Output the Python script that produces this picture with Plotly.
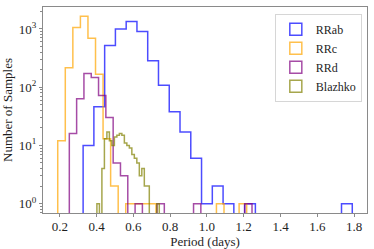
import numpy as np
import plotly.graph_objects as go

# ---------------- data ----------------
N_BINS = 25
series_names = ["RRab", "RRc", "RRd", "Blazhko"]

rrab_range = [0.327, 1.790]
rrab_counts = [10, 46, 522, 993, 1337, 908, 284, 108, 38, 17, 6, 1, 2, 1, 0, 1,
               0, 0, 0, 0, 0, 0, 0, 0, 1]

rrc_range = [0.189, 1.216]
rrc_counts = [12, 215, 1056, 1644, 689, 166, 13, 2, 0, 1, 1, 1, 1, 0, 0, 0,
              0, 0, 0, 0, 0, 1, 0, 0, 1]

rrd_range = [0.252, 1.245]
rrd_counts = [16, 63, 172, 147, 72, 30, 5, 3, 0, 1, 0, 0, 1, 0, 0, 0,
              0, 1, 0, 0, 0, 0, 0, 0, 1]

blazhko_range = [0.402, 0.741]
blazhko_counts = [1, 0, 4, 13, 17, 12, 10, 14, 15, 16, 15, 11, 10, 9, 7, 6,
                  5, 3, 4, 2, 2, 0, 0, 0, 1]

x_tick_vals = [0.2, 0.4, 0.6, 0.8, 1.0, 1.2, 1.4, 1.6, 1.8]
y_tick_vals = [1, 10, 100, 1000]
y_tick_text = ["10<sup>0</sup>", "10<sup>1</sup>", "10<sup>2</sup>", "10<sup>3</sup>"]

# ---------------- styling ----------------
line_colors = ["rgba(0,0,255,0.7)", "rgba(255,165,0,0.7)",
               "rgba(128,0,128,0.7)", "rgba(128,128,0,0.7)"]
FLOOR = 1e-2  # stands in for zero counts on the log axis (drawn below the axis)
FONT = "Liberation Serif, DejaVu Serif, serif"
TXT = "#1e1e1e"

ranges = [rrab_range, rrc_range, rrd_range, blazhko_range]
counts = [rrab_counts, rrc_counts, rrd_counts, blazhko_counts]


def step_outline(rng, cnt):
    edges = np.linspace(rng[0], rng[1], len(cnt) + 1)
    c = np.asarray(cnt, dtype=float)
    c[c <= 0] = FLOOR
    xs = np.repeat(edges, 2)
    ys = np.concatenate([[FLOOR], np.repeat(c, 2), [FLOOR]])
    return xs, ys


fig = go.Figure()
for name, rng, cnt, col in zip(series_names, ranges, counts, line_colors):
    xs, ys = step_outline(rng, cnt)
    fig.add_trace(go.Scatter(x=xs, y=ys, mode="lines", name=name,
                             line=dict(color=col, width=1.5),
                             showlegend=False, hoverinfo="skip"))

# legend entries (outlined patches, like matplotlib's step histogram legend)
for name, col in zip(series_names, line_colors):
    fig.add_trace(go.Bar(x=[None], y=[None], name=name,
                         marker=dict(color="rgba(0,0,0,0)",
                                     line=dict(color=col, width=1.5)),
                         showlegend=True))

all_lo = min(r[0] for r in ranges)
all_hi = max(r[1] for r in ranges)
pad = 0.05 * (all_hi - all_lo)

max_count = max(max(c) for c in counts)
ylo, yhi = 0.0, np.log10(max_count)
ypad = 0.05 * (yhi - ylo)

axis_common = dict(showgrid=False, zeroline=False, showline=True, mirror=True,
                   linecolor="#8a8a8a", linewidth=1, ticks="outside",
                   ticklen=3, tickwidth=1, tickcolor="#8a8a8a",
                   tickfont=dict(family=FONT, size=13, color=TXT))

fig.update_layout(
    width=374, height=249,
    margin=dict(l=38, r=7, t=6, b=34),
    paper_bgcolor="white", plot_bgcolor="white",
    font=dict(family=FONT, size=13, color=TXT),
    xaxis=dict(range=[all_lo - pad, all_hi + pad], tickmode="array",
               tickvals=x_tick_vals, tickformat=".1f", ticklabelstandoff=-2,
               title=dict(text="Period (days)", standoff=0,
                          font=dict(family=FONT, size=13, color=TXT)),
               **axis_common),
    yaxis=dict(type="log", range=[ylo - ypad, yhi + ypad], tickmode="array",
               tickvals=y_tick_vals, ticktext=y_tick_text,
               minor=dict(ticks="outside", ticklen=2, tickcolor="#8a8a8a",
                          dtick="D1", showgrid=False),
               title=dict(text="Number of Samples", standoff=4,
                          font=dict(family=FONT, size=13, color=TXT)),
               **axis_common),
    legend=dict(x=0.984, y=0.967, xanchor="right", yanchor="top",
                bgcolor="rgba(255,255,255,0.85)", bordercolor="#d6d6d6",
                borderwidth=1, font=dict(family=FONT, size=12, color=TXT),
                tracegroupgap=0, itemwidth=30),
)

fig.write_html(
    "out.html",
    config={"displayModeBar": False},
    post_script="document.body.style.margin='0';document.body.style.padding='0';"
                "document.body.style.overflow='hidden';",
)
